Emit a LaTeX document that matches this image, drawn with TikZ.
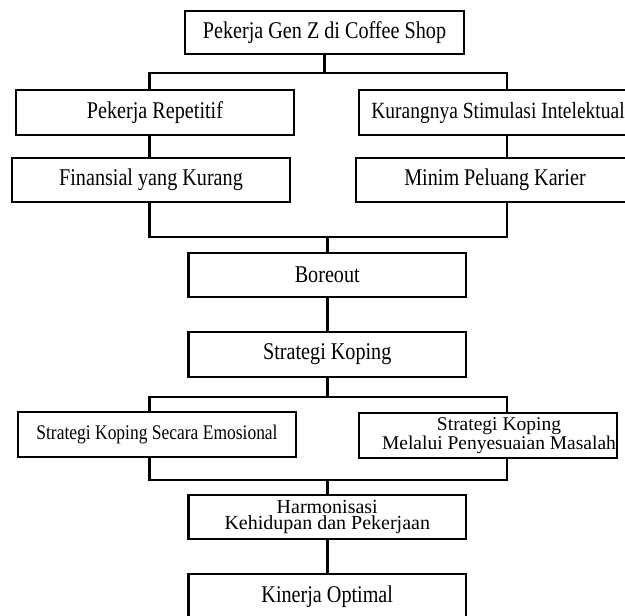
\documentclass[tikz,border=0pt]{standalone}
\usepackage{fontspec}
\setmainfont{Liberation Serif}
\newfontfamily\narrowserif[FakeStretch=0.84]{Liberation Serif}
\usetikzlibrary{calc}
\tikzset{
  %% Box presets
  sbox/.style  = {draw=black, line width=2.6pt, fill=white, inner sep=0pt, align=center,
                  minimum width=278pt, minimum height=44pt,
                  font=\narrowserif\fontsize{24}{20}\selectfont},
  smbox/.style = {sbox, font=\narrowserif\fontsize{20.8}{16}\selectfont},
  tbox/.style  = {sbox, font=\fontsize{20}{16}\selectfont},
  link/.style  = {line width=2.6pt},
}
\begin{document}
\begin{tikzpicture}[x=1pt, y=-1pt]

\useasboundingbox (0,0) rectangle (625,616);
\clip (0,0) rectangle (625,616);

%% ---- (1) Top ----
\node[sbox, minimum width=279pt, minimum height=43pt] (top) at (324.5, 32.5) {Pekerja Gen Z di Coffee Shop};

%% ---- (2) Causes ----
\node[sbox, minimum height=45pt] (r1L) at (155, 112.5) {Pekerja Repetitif};
\node[sbox, minimum height=45pt, font=\narrowserif\fontsize{23.2}{20}\selectfont] (r1R) at (498, 112.5) {Kurangnya Stimulasi Intelektual};
\node[sbox] (r2L) at (151, 180) {Finansial yang Kurang};
\node[sbox] (r2R) at (495, 180) {Minim Peluang Karier};

%% ---- (3) Middle column ----
\node[sbox, minimum width=277.5pt] (boreout) at (327.25, 275) {Boreout};
\node[sbox, minimum width=277.5pt, minimum height=45pt] (koping) at (327.25, 354.5) {Strategi Koping};

%% ---- (4) Coping strategies ----
\node[smbox, minimum height=45pt] (r3L) at (157, 434.5) {Strategi Koping Secara Emosional};
\node[tbox, font=\fontsize{19.5}{15.5}\selectfont, minimum width=258pt, minimum height=45pt] (r3R) at (488, 435.5)
  {\hspace*{22pt}Strategi Koping\\\hspace*{22pt}Melalui Penyesuaian Masalah};

%% ---- (5) Outcome ----
\node[tbox, minimum width=277.5pt] (harmoni) at (327.25, 517) {Harmonisasi\\Kehidupan dan Pekerjaan};
\node[sbox, minimum width=277.5pt, minimum height=45pt] (kinerja) at (327.25, 596.5) {Kinerja Optimal};

%% Bus lines and columns
\coordinate (busA) at (0, 73);
\coordinate (busB) at (0, 237);
\coordinate (busC) at (0, 397);
\coordinate (busD) at (0, 480);
\coordinate (colL) at (149.5, 0);
\coordinate (colR) at (507, 0);

%% Connectors
\draw[link] (top.south) -- (top.south |- busA);
\draw[link] (colL |- r1L.north) |- (busA -| colR) -- (colR |- r1R.north);
\draw[link] (colL |- r1L.south) -- (colL |- r2L.north);
\draw[link] (colR |- r1R.south) -- (colR |- r2R.north);
\draw[link] (colL |- r2L.south) |- (busB -| colR) -- (colR |- r2R.south);
\draw[link] (boreout.north) -- (boreout.north |- busB);
\draw[link] (boreout) -- (koping);
\draw[link] (koping.south) -- (koping.south |- busC);
\draw[link] (colL |- r3L.north) |- (busC -| colR) -- (colR |- r3R.north);
\draw[link] (colL |- r3L.south) |- (busD -| colR) -- (colR |- r3R.south);
\draw[link] (harmoni.north) -- (harmoni.north |- busD);
\draw[link] (harmoni) -- (kinerja);

\end{tikzpicture}
\end{document}
